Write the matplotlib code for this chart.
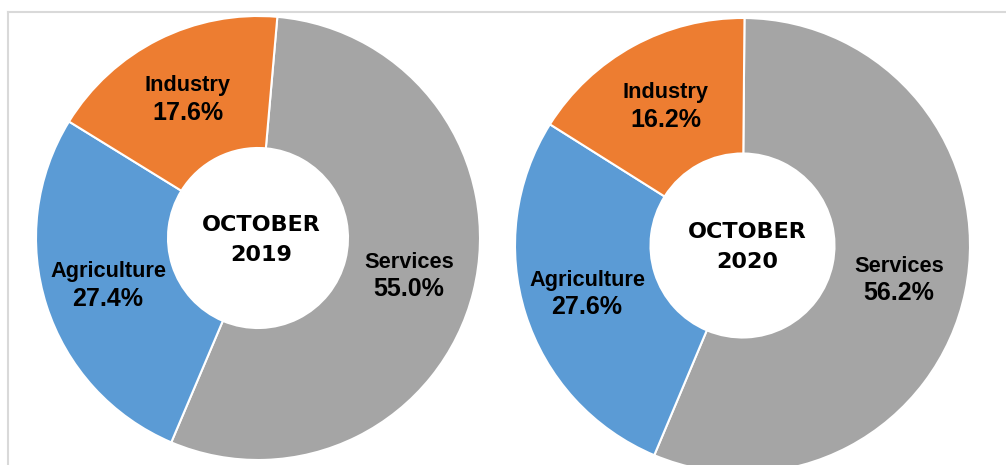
import matplotlib.pyplot as plt
from matplotlib.lines import Line2D

W, H = 1006, 465

sectors = ["Services", "Agriculture", "Industry"]
shares_2019 = [55.0, 27.4, 17.6]
shares_2020 = [56.2, 27.6, 16.2]
titles = [("OCTOBER", "2019"), ("OCTOBER", "2020")]

COLORS = ["#A5A5A5", "#5B9BD5", "#ED7D31"]

# per-chart layout in pixels (y from top): centre, radii, start angle,
# label x and the two baselines for Services, Agriculture, Industry
LAYOUT = [
    {
        "center": (258, 238), "outer": 222, "inner": 90, "start": 85,
        "labels": [(409, 268, 296), (108, 277, 306), (188, 91, 120)],
        "title": (261, 231, 261),
    },
    {
        "center": (742.5, 245.5), "outer": 227.5, "inner": 92, "start": 89.5,
        "labels": [(899, 272, 300), (587, 286, 314), (666, 98, 127)],
        "title": (747, 238, 268),
    },
]

fig = plt.figure(figsize=(W / 100, H / 100), dpi=100)
ax = fig.add_axes([0, 0, 1, 1])

# light frame around the chart area (top and left edges visible)
frame = dict(color="#D9D9D9", linewidth=1.5)
ax.add_line(Line2D([8, W], [H - 12.5, H - 12.5], **frame))
ax.add_line(Line2D([8, 8], [0, H - 12.5], **frame))

label_font = ["Liberation Sans", "Arial", "DejaVu Sans"]

for shares, title, cfg in zip([shares_2019, shares_2020], titles, LAYOUT):
    cx, cy = cfg["center"]
    ax.pie(
        shares,
        colors=COLORS,
        center=(cx, H - cy),
        radius=cfg["outer"],
        startangle=cfg["start"],
        counterclock=False,
        wedgeprops=dict(width=cfg["outer"] - cfg["inner"],
                        edgecolor="white", linewidth=1.5),
        frame=True,
    )
    for name, value, (lx, b1, b2) in zip(sectors, shares, cfg["labels"]):
        ax.text(lx, H - b1, name, ha="center", va="baseline",
                fontsize=15.7, fontweight="bold", family=label_font)
        ax.text(lx, H - b2, f"{value:.1f}%", ha="center", va="baseline",
                fontsize=18, fontweight="bold", family=label_font)
    tx, t1, t2 = cfg["title"]
    for line, base in zip(title, (t1, t2)):
        ax.text(tx, H - base, line, ha="center", va="baseline",
                fontsize=16, fontweight="bold", family="DejaVu Sans")

ax.set_xlim(0, W)
ax.set_ylim(0, H)
ax.set_aspect("equal")
ax.axis("off")

fig.savefig("out.png", dpi=100)
